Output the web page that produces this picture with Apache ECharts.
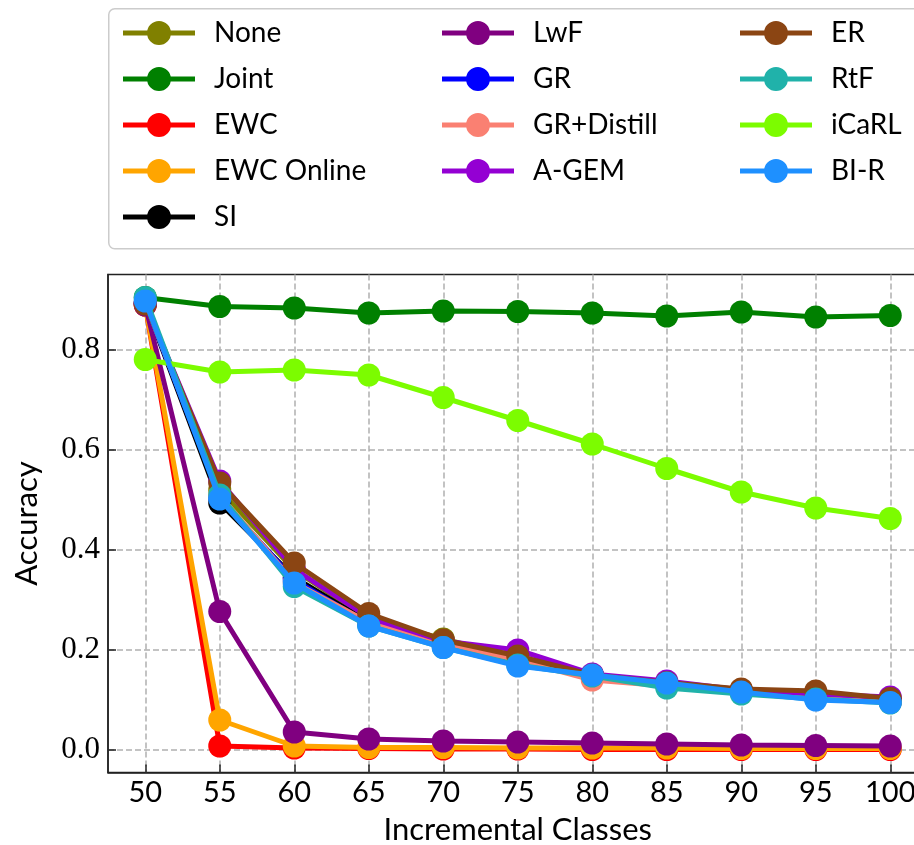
<!DOCTYPE html>
<html>
<head>
<meta charset="utf-8">
<title>Accuracy vs. incremental classes</title>
<script src="https://cdn.jsdelivr.net/npm/echarts@6/dist/echarts.min.js"></script>
<style>
  html, body { margin: 0; padding: 0; background: #fff; }
  #chart { width: 914px; height: 845px; }
</style>
</head>
<body>
<div id="chart"></div>
<script>
// Number of classes seen so far
const classes = [50, 55, 60, 65, 70, 75, 80, 85, 90, 95, 100];
const yTicks = [0.0, 0.2, 0.4, 0.6, 0.8];

// Accuracy per method
const accNone      = [0.895, 0.520, 0.360, 0.262, 0.222, 0.185, 0.148, 0.130, 0.120, 0.110, 0.100];
const accJoint     = [0.905, 0.887, 0.884, 0.874, 0.878, 0.877, 0.874, 0.868, 0.876, 0.866, 0.869];
const accEWC       = [0.890, 0.008, 0.004, 0.003, 0.002, 0.002, 0.001, 0.001, 0.001, 0.001, 0.001];
const accEWCOnline = [0.890, 0.060, 0.008, 0.005, 0.005, 0.004, 0.004, 0.004, 0.003, 0.003, 0.003];
const accSI        = [0.893, 0.494, 0.345, 0.255, 0.210, 0.178, 0.150, 0.130, 0.118, 0.108, 0.098];
const accLwF       = [0.890, 0.277, 0.036, 0.022, 0.018, 0.016, 0.014, 0.012, 0.010, 0.009, 0.008];
const accGR        = [0.894, 0.505, 0.340, 0.252, 0.208, 0.175, 0.150, 0.132, 0.118, 0.105, 0.097];
const accGRDistill = [0.895, 0.510, 0.335, 0.255, 0.212, 0.180, 0.140, 0.128, 0.115, 0.104, 0.095];
const accAGEM      = [0.893, 0.538, 0.362, 0.265, 0.218, 0.200, 0.152, 0.138, 0.120, 0.112, 0.106];
const accER        = [0.892, 0.534, 0.374, 0.273, 0.220, 0.188, 0.150, 0.135, 0.122, 0.118, 0.103];
const accRtF       = [0.905, 0.510, 0.327, 0.248, 0.205, 0.170, 0.148, 0.124, 0.112, 0.102, 0.094];
const accICaRL     = [0.781, 0.756, 0.760, 0.750, 0.705, 0.659, 0.612, 0.563, 0.516, 0.484, 0.463];
const accBIR       = [0.898, 0.502, 0.334, 0.248, 0.205, 0.168, 0.150, 0.134, 0.116, 0.100, 0.095];

const methods = [
  { name: 'None',        color: '#808000', values: accNone },
  { name: 'Joint',       color: '#008000', values: accJoint },
  { name: 'EWC',         color: '#ff0000', values: accEWC },
  { name: 'EWC Online',  color: '#ffa500', values: accEWCOnline },
  { name: 'SI',          color: '#000000', values: accSI },
  { name: 'LwF',         color: '#800080', values: accLwF },
  { name: 'GR',          color: '#0000ff', values: accGR },
  { name: 'GR+Distill',  color: '#fa8072', values: accGRDistill },
  { name: 'A-GEM',       color: '#9400d3', values: accAGEM },
  { name: 'ER',          color: '#8b4513', values: accER },
  { name: 'RtF',         color: '#20b2aa', values: accRtF },
  { name: 'iCaRL',       color: '#7cfc00', values: accICaRL },
  { name: 'BI-R',        color: '#1e90ff', values: accBIR }
];

const legendColumns = [
  ['None', 'Joint', 'EWC', 'EWC Online', 'SI'],
  ['LwF', 'GR', 'GR+Distill', 'A-GEM'],
  ['ER', 'RtF', 'iCaRL', 'BI-R']
];
const legendLefts = [118, 437, 735];

// legend handle: a short thick line with a dot in the middle
const handleIcon = 'path://M0,10.5 H26 V15.5 H0 Z M46,10.5 H72 V15.5 H46 Z ' +
                   'M24,13 A12,12 0 1,1 48,13 A12,12 0 1,1 24,13 Z';

const sansFont = 'Lato';
const serifFont = 'Liberation Serif';

const chart = echarts.init(document.getElementById('chart'), null, { renderer: 'canvas' });

const option = {
  animation: false,
  backgroundColor: '#ffffff',
  graphic: [{
    type: 'rect',
    left: 108, top: 8,
    shape: { width: 840, height: 240, r: 6 },
    style: { fill: '#ffffff', stroke: '#cccccc', lineWidth: 1.5 },
    z: 0
  }],
  legend: legendColumns.map((names, i) => ({
    orient: 'vertical',
    left: legendLefts[i],
    top: 14,
    itemWidth: 72,
    itemHeight: 26,
    itemGap: 18,
    icon: handleIcon,
    selectedMode: false,
    data: names,
    textStyle: { fontFamily: sansFont, fontSize: 28, color: '#000', padding: [0, 0, 0, 14] },
    z: 5
  })),
  grid: {
    left: 108, top: 274.5, width: 819.5, height: 498,
    outerBoundsMode: 'none',
    containLabel: false,
    show: true, borderColor: '#222', borderWidth: 1.5, backgroundColor: 'transparent'
  },
  xAxis: {
    type: 'value',
    min: 47.5,
    max: 102.5,
    name: 'Incremental Classes',
    nameLocation: 'middle',
    nameGap: 42,
    nameTextStyle: { fontFamily: sansFont, fontSize: 31, color: '#000' },
    axisLine: { show: true, onZero: false, lineStyle: { color: '#222', width: 1.5 } },
    axisTick: { show: true, inside: true, length: 8, customValues: classes,
                lineStyle: { color: '#222', width: 1.5 } },
    axisLabel: { customValues: classes, margin: 6, fontFamily: sansFont, fontSize: 29, color: '#000' },
    splitLine: { show: true, lineStyle: { color: '#b0b0b0', width: 1.5, type: [6, 3] } }
  },
  yAxis: {
    type: 'value',
    min: -0.045,
    max: 0.951,
    name: 'Accuracy',
    nameLocation: 'middle',
    nameGap: 66,
    nameRotate: 90,
    nameTextStyle: { fontFamily: sansFont, fontSize: 31, color: '#000' },
    axisLine: { show: true, onZero: false, lineStyle: { color: '#222', width: 1.5 } },
    axisTick: { show: true, inside: true, length: 8, customValues: yTicks,
                lineStyle: { color: '#222', width: 1.5 } },
    axisLabel: { customValues: yTicks, margin: 8, fontFamily: serifFont, fontSize: 31, color: '#000',
                 formatter: v => v.toFixed(1) },
    splitLine: { show: true, lineStyle: { color: '#b0b0b0', width: 1.5, type: [6, 3] } }
  },
  series: methods.map((m, i) => ({
    name: m.name,
    type: 'line',
    data: classes.map((c, j) => [c, m.values[j]]),
    symbol: 'circle',
    symbolSize: 23,
    showSymbol: true,
    showAllSymbol: true,
    color: m.color,
    itemStyle: { color: m.color },
    lineStyle: { color: m.color, width: 5 },
    z: 2 + i,
    emphasis: { disabled: true }
  }))
};

chart.setOption(option);
</script>
</body>
</html>
